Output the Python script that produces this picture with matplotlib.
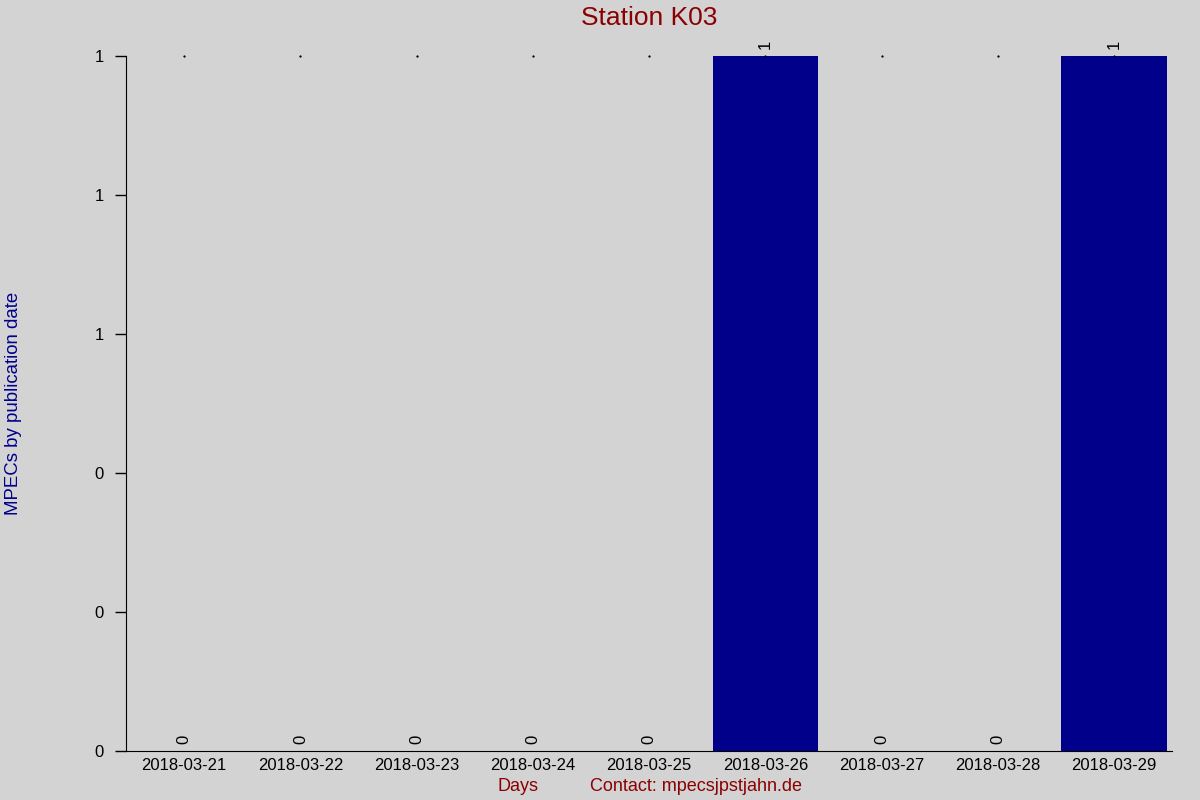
import numpy as np
import matplotlib.pyplot as plt

plt.rcParams['font.family'] = ['Liberation Sans', 'DejaVu Sans']

days = ['2018-03-21', '2018-03-22', '2018-03-23', '2018-03-24', '2018-03-25',
        '2018-03-26', '2018-03-27', '2018-03-28', '2018-03-29']
counts = [0, 0, 0, 0, 0, 1, 0, 0, 1]

bg = '#d3d3d3'
fig = plt.figure(figsize=(12, 8), dpi=100, facecolor=bg)
ax = fig.add_axes([0.105, 0.06125, 0.872, 0.86875], facecolor=bg)

x = np.arange(len(days))
ax.bar(x, counts, width=0.91, color='#00008b')
ax.set_xlim(-0.5, len(days) - 0.5)
ax.set_ylim(0, 1)

for xi, c in zip(x, counts):
    ax.annotate(str(c), (xi, c), xytext=(0, 5), textcoords='offset points',
                rotation=90, ha='center', va='bottom', fontsize=12,
                annotation_clip=False)
    # tiny dot at top like original
    ax.plot(xi, 1, marker='s', markersize=0.6, color='black', clip_on=False)

ax.set_xticks(x)
ax.set_xticklabels(days, fontsize=12)
ax.set_yticks(np.linspace(0, 1, 6))
ax.set_yticklabels(['%.0f' % v for v in np.linspace(0, 1, 6)], fontsize=12)
ax.tick_params(axis='x', length=0, pad=5)
ax.tick_params(axis='y', length=8, width=1, pad=8)

for s in ['top', 'right']:
    ax.spines[s].set_visible(False)

ax.set_title('Station K03', color='#8b0000', fontsize=19, pad=22)
fig.text(0.004, 0.496, 'MPECs by publication date', rotation=90, color='#00008b',
         fontsize=13.4, ha='left', va='center')
fig.text(0.432, 0.017, 'Days', color='#8b0000', fontsize=13, ha='center', va='center')
fig.text(0.58, 0.017, 'Contact: mpecsjpstjahn.de', color='#8b0000', fontsize=13,
         ha='center', va='center')

fig.savefig('out.png', dpi=100, facecolor=bg)
